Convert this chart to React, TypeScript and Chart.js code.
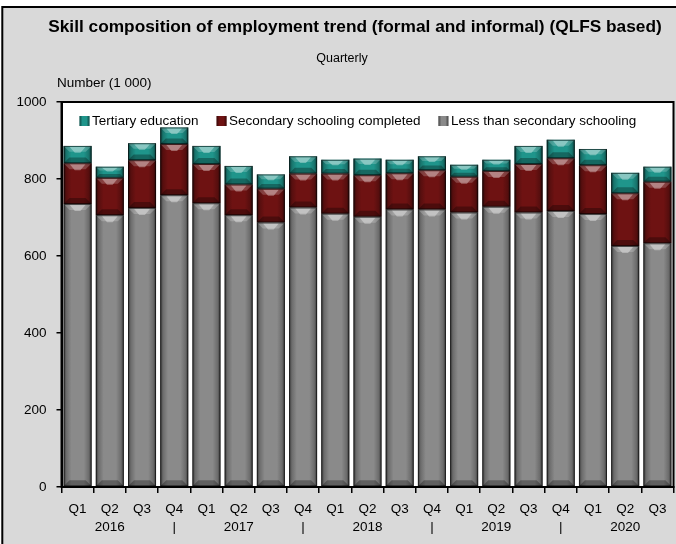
import React, { useEffect, useRef } from "react";
import { Chart, registerables } from "chart.js";

Chart.register(...registerables);

const chartTitle = "Skill composition of employment trend (formal and informal) (QLFS based)";
const chartSubtitle = "Quarterly";
const yAxisTitle = "Number (1 000)";

const quarters = ["Q1", "Q2", "Q3", "Q4", "Q1", "Q2", "Q3", "Q4", "Q1", "Q2", "Q3", "Q4", "Q1", "Q2", "Q3", "Q4", "Q1", "Q2", "Q3"];
const yearMarks = ["", "2016", "", "|", "", "2017", "", "|", "", "2018", "", "|", "", "2019", "", "|", "", "2020", ""];

const seriesNames = ["Less than secondary schooling", "Secondary schooling completed", "Tertiary education"];
const lessThanSecondary = [735, 706, 725, 758, 737, 706, 687, 726, 710, 702, 721, 721, 713, 728, 713, 717, 709, 626, 633];
const secondaryCompleted = [106, 97, 124, 133, 102, 80, 88, 88, 104, 108, 94, 102, 93, 93, 126, 137, 127, 137, 160];
const tertiaryEducation = [45, 29, 44, 43, 47, 48, 37, 45, 36, 43, 35, 36, 31, 29, 47, 48, 42, 53, 39];

const seriesColors = ["#8a8a8a", "#6e1212", "#1f958b"];
const FONT = "'Liberation Sans', Arial, sans-serif";

const framePlugin = {
  id: "frame",
  beforeDraw(chart: any) {
    const ctx = chart.ctx;
    const ca = chart.chartArea;
    ctx.save();
    ctx.fillStyle = "#ffffff";
    ctx.fillRect(0, 0, chart.width, chart.height);
    ctx.fillStyle = "#d9d9d9";
    ctx.fillRect(2, 7, chart.width, chart.height);
    ctx.strokeStyle = "#000";
    ctx.lineWidth = 2;
    ctx.beginPath();
    ctx.moveTo(2.3, chart.height + 2);
    ctx.lineTo(2.3, 7);
    ctx.lineTo(chart.width + 2, 7);
    ctx.stroke();
    ctx.fillStyle = "#ffffff";
    ctx.fillRect(ca.left, ca.top, ca.right - ca.left, ca.bottom - ca.top);
    ctx.restore();
  },
  afterDraw(chart: any) {
    const ctx = chart.ctx;
    const ca = chart.chartArea;
    ctx.save();
    ctx.strokeStyle = "#000";
    ctx.lineWidth = 2;
    ctx.strokeRect(ca.left, ca.top, ca.right - ca.left, ca.bottom - ca.top);
    ctx.fillStyle = "#000";
    ctx.textBaseline = "middle";
    ctx.textAlign = "center";
    ctx.font = `bold 17.3px ${FONT}`;
    ctx.fillText(chartTitle, 355, 27);
    ctx.font = `12.5px ${FONT}`;
    ctx.fillText(chartSubtitle, 342, 59);
    ctx.textAlign = "left";
    ctx.font = `13.5px ${FONT}`;
    ctx.fillText(yAxisTitle, 57, 83);
    ctx.restore();
  },
};

const bevelPlugin = {
  id: "bevel",
  afterDatasetsDraw(chart: any) {
    const ctx = chart.ctx;
    const ca = chart.chartArea;
    ctx.save();
    ctx.beginPath();
    ctx.rect(ca.left, ca.top, ca.right - ca.left, ca.bottom - ca.top);
    ctx.clip();
    chart.data.datasets.forEach((_ds: any, di: number) => {
      const meta = chart.getDatasetMeta(di);
      meta.data.forEach((el: any) => {
        const p = el.getProps(["x", "y", "base", "width"], true);
        const l = p.x - p.width / 2;
        const r = p.x + p.width / 2;
        const t = Math.min(p.y, p.base);
        const b = Math.max(p.y, p.base);
        const w = r - l;
        const h = b - t;
        if (h <= 0) return;
        const g = ctx.createLinearGradient(l, 0, r, 0);
        g.addColorStop(0, "rgba(0,0,0,0.6)");
        g.addColorStop(0.1, "rgba(0,0,0,0.22)");
        g.addColorStop(0.28, "rgba(0,0,0,0)");
        g.addColorStop(0.72, "rgba(0,0,0,0)");
        g.addColorStop(0.9, "rgba(0,0,0,0.22)");
        g.addColorStop(1, "rgba(0,0,0,0.6)");
        ctx.fillStyle = g;
        ctx.fillRect(l, t, w, h);
        const bv = Math.min(6, h / 3);
        ctx.fillStyle = "rgba(255,255,255,0.2)";
        ctx.beginPath();
        ctx.moveTo(l, t);
        ctx.lineTo(r, t);
        ctx.lineTo(r - bv, t + bv);
        ctx.lineTo(l + bv, t + bv);
        ctx.closePath();
        ctx.fill();
        ctx.fillStyle = "rgba(255,255,255,0.35)";
        ctx.beginPath();
        ctx.moveTo(l + w * 0.22, t + 1);
        ctx.lineTo(r - w * 0.22, t + 1);
        ctx.lineTo(p.x + w * 0.1, t + bv + 1);
        ctx.lineTo(p.x - w * 0.1, t + bv + 1);
        ctx.closePath();
        ctx.fill();
        ctx.fillStyle = "rgba(0,0,0,0.3)";
        ctx.beginPath();
        ctx.moveTo(l, b);
        ctx.lineTo(r, b);
        ctx.lineTo(r - bv, b - bv);
        ctx.lineTo(l + bv, b - bv);
        ctx.closePath();
        ctx.fill();
        ctx.strokeStyle = "rgba(0,0,0,0.55)";
        ctx.lineWidth = 1;
        ctx.strokeRect(l + 0.5, t + 0.5, w - 1, h - 1);
      });
    });
    ctx.restore();
  },
};

const legendPlugin = {
  id: "inlineLegend",
  afterDraw(chart: any) {
    const ctx = chart.ctx;
    const ca = chart.chartArea;
    ctx.save();
    ctx.font = `13.5px ${FONT}`;
    ctx.textBaseline = "middle";
    ctx.textAlign = "left";
    const yc = 121;
    let x = ca.left + 18;
    const items = chart.data.datasets.map((d: any) => ({ label: d.label, color: d.backgroundColor })).reverse();
    items.forEach((it: any) => {
      ctx.fillStyle = it.color;
      ctx.fillRect(x, yc - 5, 10, 10);
      const g = ctx.createLinearGradient(x, 0, x + 10, 0);
      g.addColorStop(0, "rgba(0,0,0,0.5)");
      g.addColorStop(0.3, "rgba(0,0,0,0)");
      g.addColorStop(0.7, "rgba(0,0,0,0)");
      g.addColorStop(1, "rgba(0,0,0,0.5)");
      ctx.fillStyle = g;
      ctx.fillRect(x, yc - 5, 10, 10);
      ctx.fillStyle = "#000";
      ctx.fillText(it.label, x + 12.5, yc);
      x += 12.5 + ctx.measureText(it.label).width + 18;
    });
    ctx.restore();
  },
};

export default function App() {
  const canvasRef = useRef<HTMLCanvasElement | null>(null);

  useEffect(() => {
    if (!canvasRef.current) return;
    const labels = quarters.map((q, i) => [q, yearMarks[i]]);
    const values = [lessThanSecondary, secondaryCompleted, tertiaryEducation];
    const chart = new Chart(canvasRef.current, {
      type: "bar",
      data: {
        labels,
        datasets: values.map((v, i) => ({
          label: seriesNames[i],
          data: v,
          backgroundColor: seriesColors[i],
          borderWidth: 0,
          barPercentage: 0.87,
          categoryPercentage: 1,
        })),
      },
      options: {
        responsive: false,
        animation: false,
        devicePixelRatio: 1,
        layout: { padding: { left: 0, right: 2.5, top: 102, bottom: 0 } },
        plugins: {
          legend: { display: false },
          tooltip: { enabled: false },
          title: { display: false },
        },
        scales: {
          x: {
            stacked: true,
            grid: {
              display: true,
              drawOnChartArea: false,
              drawTicks: true,
              tickLength: 6,
              color: "#000",
              lineWidth: 1.5,
              offset: true,
            },
            border: { display: true, color: "#000", width: 2 },
            ticks: {
              color: "#000",
              font: { family: FONT, size: 13.5, lineHeight: 1.333 },
              padding: 7,
              maxRotation: 0,
              autoSkip: false,
            },
            afterFit(scale: any) {
              scale.height = 57;
            },
          },
          y: {
            stacked: true,
            min: 0,
            max: 1000,
            grid: {
              display: true,
              drawOnChartArea: false,
              drawTicks: true,
              tickLength: 5,
              color: "#000",
              lineWidth: 1.5,
            },
            border: { display: true, color: "#000", width: 2 },
            ticks: {
              stepSize: 200,
              color: "#000",
              font: { family: FONT, size: 13.5 },
              padding: 10,
              callback: (value: any) => String(value),
            },
            afterFit(scale: any) {
              scale.width = 61.5;
            },
          },
        },
      },
      plugins: [framePlugin, bevelPlugin, legendPlugin],
    });
    return () => chart.destroy();
  }, []);

  return (
    <div style={{ position: "absolute", left: 0, top: 0, width: 676, height: 544, overflow: "hidden" }}>
      <canvas ref={canvasRef} width={676} height={544} style={{ display: "block", width: 676, height: 544 }} />
    </div>
  );
}
